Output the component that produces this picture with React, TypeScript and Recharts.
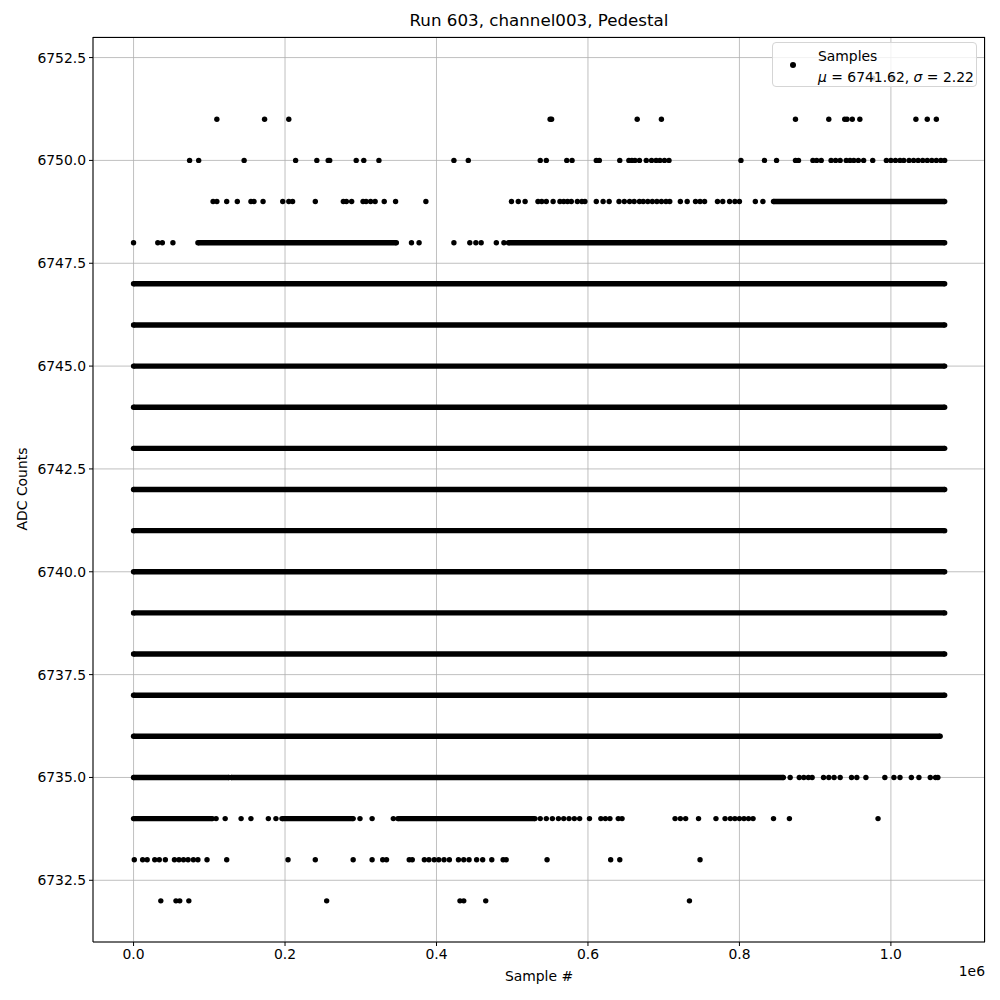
import React from "react"
import { ScatterChart, Scatter, XAxis, YAxis, CartesianGrid } from "recharts"

// sample numbers are in thousands (axis shows them x1e6)
const adc6752 = [976, 1003]
const adc6751 = [110, 173, 205, 550, 552, 665, 697, 874, 918, 939, 942, 949, 959, 1033, 1048, 1060]
const adc6750 = [
  74, 86, 146, 214, 242, 257, 259, 294, 304, 324, 423, 442, 537, 545, 572, 579, 611, 615, 642, 654,
  658, 662, 668, 677, 684, 690, 695, 701, 707, 802, 833, 849, 874, 878, 897, 902, 908, 921, 927, 933,
  941, 946, 951, 957, 964, 976, 994, 1000, 1006, 1012, 1017, 1024, 1030, 1036, 1042, 1048, 1054, 1060,
  1066, 1071,
]
const adc6749 = [
  105, 110, 123, 137, 155, 159, 171, 197, 205, 210, 240, 277, 281, 288, 303, 307, 313, 319, 331, 346,
  386, 499, 508, 517, 534, 539, 545, 554, 563, 568, 573, 578, 586, 592, 596, 611, 620, 628, 641, 648,
  655, 661, 668, 673, 679, 685, 691, 697, 703, 708, 722, 731, 742, 748, 754, 771, 778, 787, 794, 800,
  821, 831,
]
const adc6748 = [0, 32, 38, 52, 367, 377, 423, 444, 452, 459, 479, 489]
const adc6735 = [867, 879, 885, 891, 896, 911, 918, 925, 933, 948, 955, 967, 992, 1004, 1012, 1027, 1037, 1052, 1059, 1062]
const adc6734 = [
  109, 121, 142, 155, 178, 188, 299, 315, 343, 537, 545, 553, 561, 568, 575, 582, 589, 602, 617, 623,
  629, 640, 645, 715, 722, 729, 746, 769, 781, 788, 794, 800, 806, 812, 818, 845, 866, 983,
]
const adc6733 = [
  1, 12, 18, 28, 34, 42, 54, 60, 66, 72, 79, 85, 97, 123, 204, 240, 290, 315, 329, 334, 364, 368, 384,
  390, 397, 403, 410, 417, 429, 436, 443, 453, 461, 473, 488, 492, 546, 630, 642, 748,
]
const adc6732 = [36, 56, 61, 73, 255, 431, 436, 465, 734]

const sparseRows: [number, number[]][] = [
  [6752, adc6752],
  [6751, adc6751],
  [6750, adc6750],
  [6749, adc6749],
  [6748, adc6748],
  [6735, adc6735],
  [6734, adc6734],
  [6733, adc6733],
  [6732, adc6732],
]

// runs where the samples are so dense they merge: [adc, first, last]
const denseRuns: [number, number, number][] = [
  [6749, 845, 1071],
  [6748, 85, 347],
  [6748, 495, 1071],
  [6747, 0, 1071],
  [6746, 0, 1071],
  [6745, 0, 1071],
  [6744, 0, 1071],
  [6743, 0, 1071],
  [6742, 0, 1071],
  [6741, 0, 1071],
  [6740, 0, 1071],
  [6739, 0, 1071],
  [6738, 0, 1071],
  [6737, 0, 1071],
  [6736, 0, 1065],
  [6735, 0, 126],
  [6735, 129, 858],
  [6734, 0, 104],
  [6734, 196, 290],
  [6734, 349, 530],
]

const xTicks = [0, 200, 400, 600, 800, 1000]
const yTicks = [6732.5, 6735, 6737.5, 6740, 6742.5, 6745, 6747.5, 6750, 6752.5]

const FONT = "'DejaVu Sans', sans-serif"
const tickStyle = { fill: "#000", fontSize: 13.9, fontFamily: FONT }

const points = sparseRows.flatMap(([adc, xs]) => xs.map((x) => ({ x, y: adc })))

const Dot = (props: any) => <circle cx={props.cx} cy={props.cy} r={2.7} fill="#000" />

export default function App() {
  return (
    <div style={{ position: "absolute", left: 0, top: 0, width: 1000, height: 1000, background: "#fff", fontFamily: FONT }}>
      <ScatterChart width={1000} height={1000} margin={{ top: 37, right: 15, bottom: 0, left: 0 }}>
        <CartesianGrid stroke="#b0b0b0" strokeWidth={0.8} />
        <XAxis
          type="number"
          dataKey="x"
          domain={[-53.54, 1124.24]}
          ticks={xTicks}
          tickFormatter={(v: number) => (v / 1000).toFixed(1)}
          height={58}
          tickSize={4}
          tickMargin={3}
          tick={tickStyle}
          stroke="#000"
          allowDataOverflow
        />
        <YAxis
          type="number"
          dataKey="y"
          domain={[6731, 6753]}
          ticks={yTicks}
          tickFormatter={(v: number) => v.toFixed(1)}
          width={93}
          tickSize={4}
          tickMargin={3}
          tick={tickStyle}
          stroke="#000"
          allowDataOverflow
        />
        {denseRuns.map(([adc, a, b], i) => (
          <Scatter
            key={"run" + i}
            data={[{ x: a, y: adc }, { x: b, y: adc }]}
            line={{ stroke: "#000", strokeWidth: 5.4 }}
            lineType="joint"
            shape={Dot}
            isAnimationActive={false}
          />
        ))}
        <Scatter data={points} shape={Dot} isAnimationActive={false} />
      </ScatterChart>

      {/* top and right spines */}
      <div
        style={{
          position: "absolute",
          left: 93,
          top: 37,
          width: 892,
          height: 905,
          borderTop: "1px solid #000",
          borderRight: "1px solid #000",
          boxSizing: "border-box",
          pointerEvents: "none",
        }}
      />

      <div style={{ position: "absolute", left: 93, width: 892, top: 10, textAlign: "center", fontSize: 16.7, color: "#000" }}>
        Run 603, channel003, Pedestal
      </div>
      <div style={{ position: "absolute", left: 93, width: 892, top: 968, textAlign: "center", fontSize: 13.9, color: "#000" }}>
        Sample #
      </div>
      <div style={{ position: "absolute", right: 15, top: 963, fontSize: 13.9, color: "#000" }}>1e6</div>
      <div
        style={{
          position: "absolute",
          left: 22,
          top: 489,
          transform: "translate(-50%, -50%) rotate(-90deg)",
          whiteSpace: "nowrap",
          fontSize: 13.9,
          color: "#000",
        }}
      >
        ADC Counts
      </div>

      <div
        style={{
          position: "absolute",
          left: 772,
          top: 42,
          width: 205,
          height: 45,
          border: "1px solid #d5d5d5",
          borderRadius: 4,
          background: "rgba(255,255,255,0.8)",
          fontSize: 13.9,
          color: "#000",
          boxSizing: "border-box",
        }}
      >
        <div style={{ position: "absolute", left: 17, top: 19, width: 6, height: 6, borderRadius: 3, background: "#000" }} />
        <div style={{ position: "absolute", left: 45, top: 3, lineHeight: "21px", whiteSpace: "nowrap" }}>
          <div>Samples</div>
          <div>
            <i>μ</i> = 6741.62, <i>σ</i> = 2.22
          </div>
        </div>
      </div>
    </div>
  )
}
